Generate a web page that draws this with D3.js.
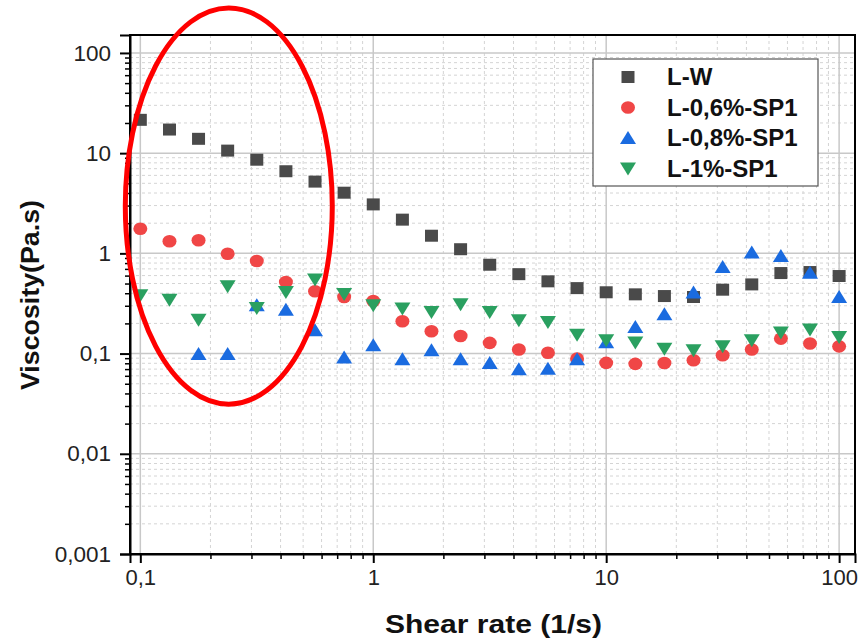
<!DOCTYPE html>
<html>
<head>
<meta charset="utf-8">
<script src="https://cdn.jsdelivr.net/npm/d3@7"></script>
<style>
  html, body { margin: 0; padding: 0; background: #fff; }
  svg { display: block; font-family: "Liberation Sans", Arial, sans-serif; }
</style>
</head>
<body>
<svg id="chart" width="861" height="640"></svg>
<script>
// ---- Data ----
const shearRate = [0.1, 0.1334, 0.1778, 0.2371, 0.3162, 0.4217, 0.5623, 0.7499,
  1, 1.334, 1.778, 2.371, 3.162, 4.217, 5.623, 7.499,
  10, 13.34, 17.78, 23.71, 31.62, 42.17, 56.23, 74.99, 100];

const viscLW = [21.5, 17.2, 13.9, 10.6, 8.6, 6.6, 5.2, 4.03,
  3.08, 2.17, 1.50, 1.10, 0.77, 0.62, 0.526, 0.45,
  0.409, 0.39, 0.375, 0.367, 0.434, 0.49, 0.636, 0.651, 0.594];

const visc06 = [1.76, 1.32, 1.35, 0.99, 0.838, 0.518, 0.418, 0.367,
  0.335, 0.21, 0.167, 0.15, 0.128, 0.110, 0.102, 0.089,
  0.0808, 0.079, 0.0805, 0.0859, 0.0963, 0.11, 0.141, 0.126, 0.118];

const visc08 = [null, null, 0.099, 0.099, 0.303, 0.274, 0.171, 0.0913,
  0.121, 0.0877, 0.108, 0.0877, 0.0805, 0.0699, 0.0706, 0.088,
  0.13, 0.184, 0.247, 0.406, 0.73, 1.02, 0.94, 0.642, 0.367];

const visc1 = [0.381, 0.345, 0.218, 0.469, 0.285, 0.411, 0.55, 0.393,
  0.303, 0.281, 0.26, 0.31, 0.26, 0.215, 0.207, 0.154,
  0.136, 0.129, 0.112, 0.108, 0.118, 0.136, 0.162, 0.174, 0.146];

const seriesNames = ["L-W", "L-0,6%-SP1", "L-0,8%-SP1", "L-1%-SP1"];
const xTickValues = [0.1, 1, 10, 100];
const xTickLabels = ["0,1", "1", "10", "100"];
const yTickValues = [0.001, 0.01, 0.1, 1, 10, 100];
const yTickLabels = ["0,001", "0,01", "0,1", "1", "10", "100"];
// annotation ellipse extents in data space (x: shear rate, y: viscosity)
const ellipseX = [0.0862, 0.667];
const ellipseY = [0.0313, 281];

// ---- Layout ----
const svg = d3.select("#chart");
const mLeft = 130, mRight = 855, mTop = 35, mBottom = 554;

const x = d3.scaleLog().domain([0.0903, 117]).range([mLeft, mRight]);
const y = d3.scaleLog().domain([0.001, 151]).range([mBottom, mTop]);

const colors = ["#4a4a4a", "#f04646", "#1a6be0", "#2aa060"];
const shapes = ["square", "circle", "up", "down"];

// minor ticks
function minorTicks(domainMin, domainMax) {
  const out = [];
  for (let e = -4; e <= 3; e++) {
    for (let k = 2; k <= 9; k++) {
      const v = k * Math.pow(10, e);
      if (v > domainMin && v < domainMax) out.push(v);
    }
  }
  return out;
}
const xMinor = minorTicks(x.domain()[0], x.domain()[1]);
const yMinor = minorTicks(y.domain()[0], y.domain()[1]);

// ---- Grid ----
const grid = svg.append("g");
grid.selectAll(".xm").data(xMinor).join("line")
  .attr("x1", d => x(d)).attr("x2", d => x(d))
  .attr("y1", mTop).attr("y2", mBottom)
  .attr("stroke", "#d4d4d4").attr("stroke-width", 1).attr("stroke-dasharray", "3,3");
grid.selectAll(".ym").data(yMinor).join("line")
  .attr("y1", d => y(d)).attr("y2", d => y(d))
  .attr("x1", mLeft).attr("x2", mRight)
  .attr("stroke", "#d4d4d4").attr("stroke-width", 1).attr("stroke-dasharray", "3,3");
grid.selectAll(".xM").data(xTickValues).join("line")
  .attr("x1", d => x(d)).attr("x2", d => x(d))
  .attr("y1", mTop).attr("y2", mBottom)
  .attr("stroke", "#c8c8c8").attr("stroke-width", 1.5);
grid.selectAll(".yM").data(yTickValues.filter(v => v > 0.001)).join("line")
  .attr("y1", d => y(d)).attr("y2", d => y(d))
  .attr("x1", mLeft).attr("x2", mRight)
  .attr("stroke", "#c8c8c8").attr("stroke-width", 1.5);

// ---- Frame ----
svg.append("rect").attr("x", mLeft).attr("y", mTop)
  .attr("width", mRight - mLeft).attr("height", mBottom - mTop)
  .attr("fill", "none").attr("stroke", "#000").attr("stroke-width", 2);

// ---- Axes ----
const xAxis = d3.axisBottom(x).tickValues(xTickValues)
  .tickFormat((d, i) => xTickLabels[i]).tickSize(9).tickPadding(6);
const gx = svg.append("g").attr("transform", `translate(0,${mBottom})`).call(xAxis);
gx.select(".domain").attr("stroke", "#000").attr("stroke-width", 2);
gx.selectAll(".tick line").attr("stroke", "#000").attr("stroke-width", 2);
gx.selectAll(".tick text").attr("font-size", 22).attr("fill", "#222")
  .attr("font-family", "Liberation Sans, Arial, sans-serif");
const gxm = svg.append("g").attr("transform", `translate(0,${mBottom})`)
  .call(d3.axisBottom(x).tickValues(xMinor).tickFormat("").tickSize(5));
gxm.select(".domain").remove();
gxm.selectAll(".tick line").attr("stroke", "#000").attr("stroke-width", 1.5);

const yAxis = d3.axisLeft(y).tickValues(yTickValues)
  .tickFormat((d, i) => yTickLabels[i]).tickSize(10).tickPadding(9);
const gy = svg.append("g").attr("transform", `translate(${mLeft},0)`).call(yAxis);
gy.select(".domain").attr("stroke", "#000").attr("stroke-width", 2);
gy.selectAll(".tick line").attr("stroke", "#000").attr("stroke-width", 2);
gy.selectAll(".tick text").attr("font-size", 22.5).attr("fill", "#222")
  .attr("font-family", "Liberation Sans, Arial, sans-serif");
const gym = svg.append("g").attr("transform", `translate(${mLeft},0)`)
  .call(d3.axisLeft(y).tickValues(yMinor).tickFormat("").tickSize(5));
gym.select(".domain").remove();
gym.selectAll(".tick line").attr("stroke", "#000").attr("stroke-width", 1.5);

// axis titles
svg.append("text").attr("x", 493.5).attr("y", 633)
  .attr("text-anchor", "middle").attr("font-size", 26).attr("font-weight", "bold")
  .attr("textLength", 217).attr("lengthAdjust", "spacingAndGlyphs")
  .attr("fill", "#111").text("Shear rate (1/s)");
svg.append("text").attr("transform", `translate(39,295) rotate(-90)`)
  .attr("text-anchor", "middle").attr("font-size", 25).attr("font-weight", "bold")
  .attr("textLength", 190).attr("lengthAdjust", "spacingAndGlyphs")
  .attr("fill", "#111").text("Viscosity(Pa.s)");

// ---- Markers ----
function markerPath(shape) {
  switch (shape) {
    case "square": return "M-6.5,-6L6.5,-6L6.5,6L-6.5,6Z";
    case "up": return "M0,-7L8,6L-8,6Z";
    case "down": return "M0,7L8,-6L-8,-6Z";
  }
  return null;
}
function drawMarker(g, shape, color) {
  if (shape === "circle") {
    g.append("ellipse").attr("rx", 7).attr("ry", 6.3).attr("fill", color);
  } else {
    g.append("path").attr("d", markerPath(shape)).attr("fill", color);
  }
}

const allSeries = [viscLW, visc06, visc08, visc1];
allSeries.forEach((vals, si) => {
  const pts = shearRate.map((sr, i) => ({ sr, v: vals[i] })).filter(p => p.v != null);
  const g = svg.append("g");
  pts.forEach(p => {
    const mg = g.append("g").attr("transform", `translate(${x(p.sr)},${y(p.v)})`);
    drawMarker(mg, shapes[si], colors[si]);
  });
});

// ---- Legend ----
const legend = svg.append("g");
legend.append("rect").attr("x", 593).attr("y", 59).attr("width", 225).attr("height", 127)
  .attr("fill", "#fff").attr("stroke", "#555").attr("stroke-width", 1.2);
seriesNames.forEach((name, i) => {
  const cy = 77 + i * 30.5;
  const mg = legend.append("g").attr("transform", `translate(628,${cy})`);
  drawMarker(mg, shapes[i], colors[i]);
  legend.append("text").attr("x", 667).attr("y", cy + 8)
    .attr("font-size", 24).attr("font-weight", "bold").attr("fill", "#111").text(name);
});

// ---- Annotation ellipse ----
const ex0 = x(ellipseX[0]), ex1 = x(ellipseX[1]);
const ey0 = y(ellipseY[1]), ey1 = y(ellipseY[0]);
svg.append("ellipse")
  .attr("cx", (ex0 + ex1) / 2).attr("cy", (ey0 + ey1) / 2)
  .attr("rx", (ex1 - ex0) / 2).attr("ry", (ey1 - ey0) / 2)
  .attr("fill", "none").attr("stroke", "#ff0000").attr("stroke-width", 5);
</script>
</body>
</html>
